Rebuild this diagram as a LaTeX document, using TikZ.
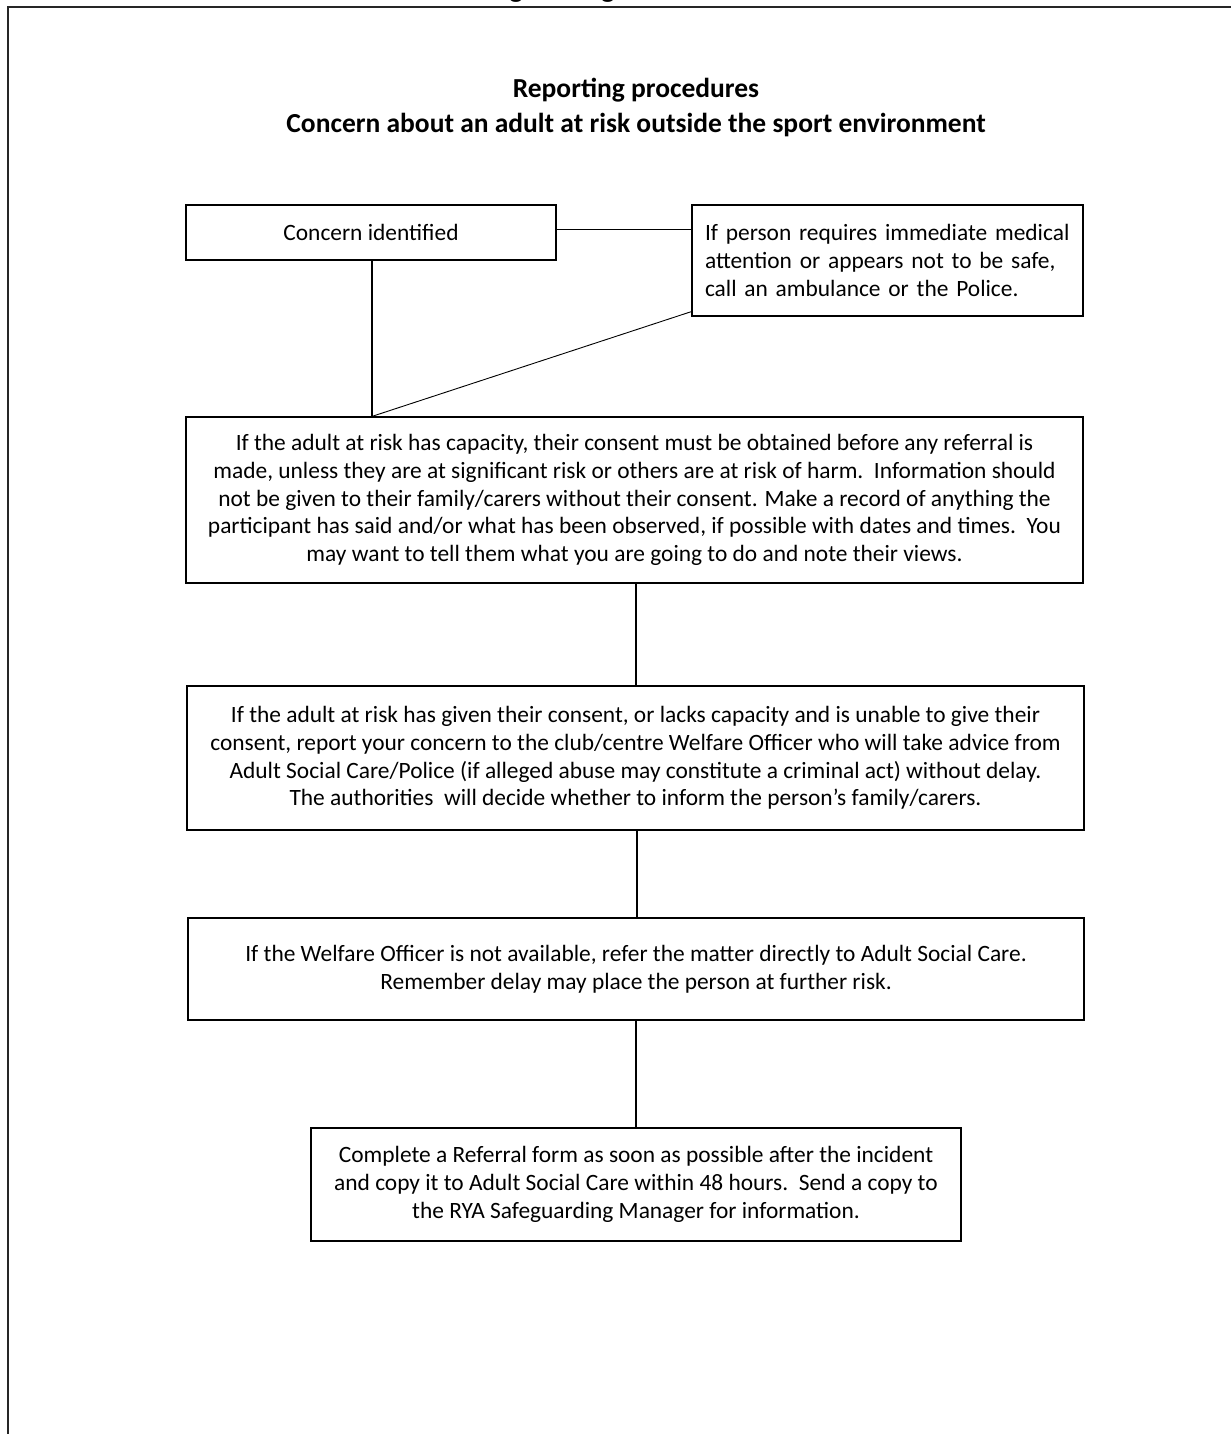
\documentclass[tikz,border=0pt]{standalone}
\usepackage{fontspec}
\setmainfont{Carlito}
\begin{document}
\begin{tikzpicture}[x=1pt,y=-1pt,
  box/.style={draw=black, line width=1.2pt, rectangle, inner sep=0pt, align=center,
    font=\fontsize{23.4}{27.8}\selectfont},
  conn/.style={draw=black, line width=1.3pt},
  thin/.style={draw=black, line width=0.9pt},
  frame/.style={draw=black!85, line width=2pt},
  titlefont/.style={font=\fontsize{27.5}{35}\selectfont\bfseries}
]
\useasboundingbox (0,0) rectangle (1231,1434);
\draw[frame] (8,1434) -- (8,7) -- (1231,7);
\node[font=\fontsize{29}{35}\selectfont\bfseries, anchor=base west, inner sep=0pt] (top) at (458,-2) {Safeguarding};

\node[titlefont, align=center, inner sep=0pt] (title) at (636,107)
  {Reporting procedures\\Concern about an adult at risk outside the sport environment};

\node[box, minimum width=370pt, minimum height=55pt] (A) at (371,232.5) {Concern identified};

\node[box, minimum width=391pt, minimum height=111pt, text width=365pt, align=left] (B) at (887.5,260.5)
  {If person requires immediate medical\\attention or appears not to be safe,\\call an ambulance or the Police.};

\node[box, minimum width=897pt, minimum height=166pt] (C) at (634.5,500)
  {If the adult at risk has capacity, their consent must be obtained before any referral is\\
   made, unless they are at significant risk or others are at risk of harm.\ \ Information should\\
   not be given to their family/carers without their consent. Make a record of anything the\\
   participant has said and/or what has been observed, if possible with dates and times.\ \ You\\
   may want to tell them what you are going to do and note their views.};

\node[box, minimum width=897pt, minimum height=144pt] (D) at (635.5,758)
  {If the adult at risk has given their consent, or lacks capacity and is unable to give their\\
   consent, report your concern to the club/centre Welfare Officer who will take advice from\\
   Adult Social Care/Police (if alleged abuse may constitute a criminal act) without delay.\\
   The authorities\ \ will decide whether to inform the person’s family/carers.};

\node[box, minimum width=896pt, minimum height=102pt] (E) at (636,969)
  {If the Welfare Officer is not available, refer the matter directly to Adult Social Care.\\
   Remember delay may place the person at further risk.};

\node[box, minimum width=650pt, minimum height=113pt] (F) at (636,1184.5)
  {Complete a Referral form as soon as possible after the incident\\
   and copy it to Adult Social Care within 48 hours.\ \ Send a copy to\\
   the RYA Safeguarding Manager for information.};

\coordinate (AC) at ([xshift=1pt]A.south |- C.north);
\draw[conn] ([yshift=3pt]A.east) -- ([yshift=3pt]A.east -| B.west);
\draw[conn] ([xshift=1pt]A.south) -- (AC);
\draw[thin] ([yshift=5pt]B.south west) -- (AC);
\draw[conn] ([xshift=1.5pt]C.south) -- ([xshift=1.5pt]C.south |- D.north);
\draw[conn] ([xshift=1.5pt]D.south) -- ([xshift=1.5pt]D.south |- E.north);
\draw[conn] (E.south) -- (E.south |- F.north);
\end{tikzpicture}
\end{document}
